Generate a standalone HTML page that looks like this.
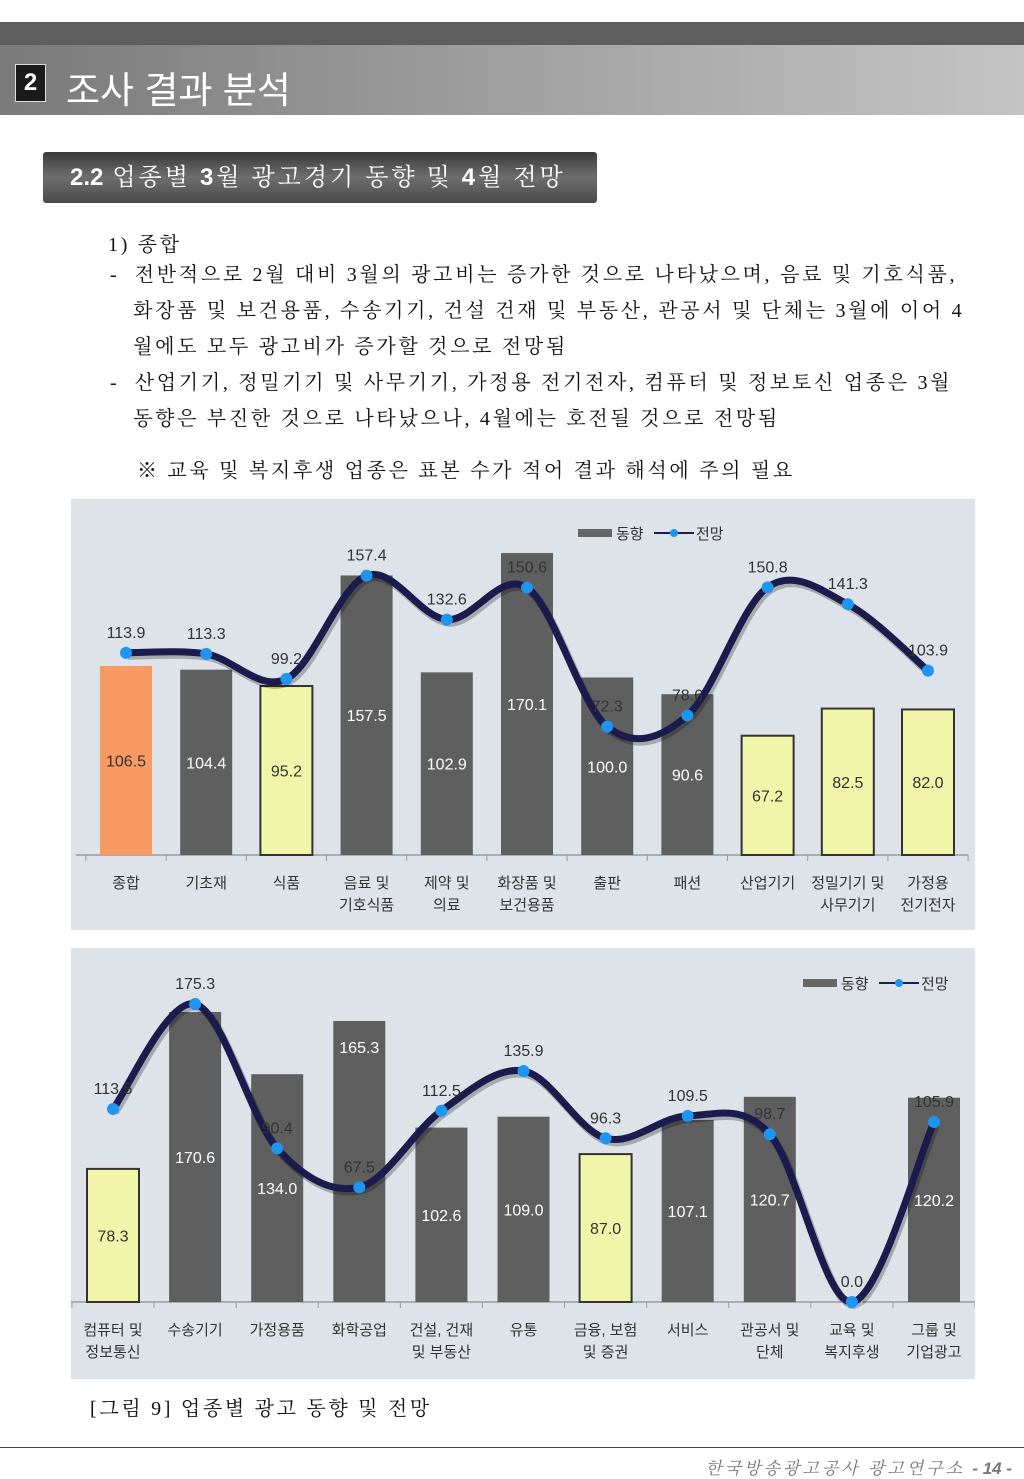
<!DOCTYPE html>
<html><head><meta charset="utf-8"><style>
body{margin:0;width:1024px;height:1479px;background:#fff;position:relative;overflow:hidden;font-family:"Liberation Serif","Noto Serif CJK SC",serif;}
.abs{position:absolute;}
.txt{font-size:20px;letter-spacing:2.7px;color:#111;white-space:nowrap;}
</style></head><body>
<div class="abs" style="left:0;top:22px;width:1024px;height:23px;background:#5e5e5e"></div>
<div class="abs" style="left:0;top:45px;width:1024px;height:70px;background:linear-gradient(90deg,#7a7a7a,#a8a8a8 60%,#c4c4c4)"></div>
<div class="abs" style="left:15px;top:64px;width:29px;height:36px;background:#1a1a1a;border:1px solid #ddd;color:#fff;font:bold 24px 'Liberation Sans',sans-serif;text-align:center;line-height:36px">2</div>
<div class="abs" style="left:66px;top:60px;color:#fff;font-size:37px;font-family:'Liberation Sans','Noto Sans CJK KR',sans-serif;white-space:nowrap">조사 결과 분석</div>
<div class="abs" style="left:43px;top:152px;width:554px;height:51px;background:linear-gradient(180deg,#3a3a3a,#6e6e6e 50%,#4a4a4a);border-radius:3px;color:#fff;font-size:24px;letter-spacing:3px;line-height:51px;padding-left:27px;box-sizing:border-box;white-space:nowrap;font-family:'Liberation Serif','Noto Serif CJK KR',serif"><b style="font-family:'Liberation Sans',sans-serif;letter-spacing:0">2.2</b> 업종별 <b style="font-family:'Liberation Sans',sans-serif">3</b>월 광고경기 동향 및 <b style="font-family:'Liberation Sans',sans-serif">4</b>월 전망</div>
<div class="abs txt" style="left:108px;top:228px">1) 종합</div>
<div class="abs txt" style="left:110px;top:257px;line-height:36px">-&nbsp; 전반적으로 2월 대비 3월의 광고비는 증가한 것으로 나타났으며, 음료 및 기호식품,<br>&nbsp;&nbsp;&nbsp;화장품 및 보건용품, 수송기기, 건설 건재 및 부동산, 관공서 및 단체는 3월에 이어 4<br>&nbsp;&nbsp;&nbsp;월에도 모두 광고비가 증가할 것으로 전망됨</div>
<div class="abs txt" style="left:110px;top:365px;line-height:36px">-&nbsp; 산업기기, 정밀기기 및 사무기기, 가정용 전기전자, 컴퓨터 및 정보토신 업종은 3월<br>&nbsp;&nbsp;&nbsp;동향은 부진한 것으로 나타났으나, 4월에는 호전될 것으로 전망됨</div>
<div class="abs txt" style="left:137px;top:454px">※ 교육 및 복지후생 업종은 표본 수가 적어 결과 해석에 주의 필요</div>

<svg class="abs" id="c1" style="left:71px;top:499px" width="904" height="431"></svg>
<svg class="abs" id="c2" style="left:71px;top:948px" width="904" height="431"></svg>

<div class="abs txt" style="left:90px;top:1392px">[그림 9] 업종별 광고 동향 및 전망</div>
<div class="abs" style="left:0;top:1447px;width:1024px;height:1px;background:#444"></div>
<div class="abs" style="right:12px;top:1454px;font-size:17px;letter-spacing:3px;font-style:italic;color:#777;white-space:nowrap">한국방송광고공사 광고연구소 <b style="font-family:'Liberation Sans',sans-serif;letter-spacing:0">- 14 -</b></div>

<script>
const cats1 = [["종합"],["기초재"],["식품"],["음료 및","기호식품"],["제약 및","의료"],["화장품 및","보건용품"],["출판"],["패션"],["산업기기"],["정밀기기 및","사무기기"],["가정용","전기전자"]];
const trend1 = [106.5,104.4,95.2,157.5,102.9,170.1,100.0,90.6,67.2,82.5,82.0];
const outlook1 = [113.9,113.3,99.2,157.4,132.6,150.6,72.3,78.6,150.8,141.3,103.9];
const style1 = ["o","g","y","g","g","g","g","g","y","y","y"];
const cats2 = [["컴퓨터 및","정보통신"],["수송기기"],["가정용품"],["화학공업"],["건설, 건재","및 부동산"],["유통"],["금융, 보험","및 증권"],["서비스"],["관공서 및","단체"],["교육 및","복지후생"],["그룹 및","기업광고"]];
const trend2 = [78.3,170.6,134.0,165.3,102.6,109.0,87.0,107.1,120.7,0.0,120.2];
const outlook2 = [113.5,175.3,90.4,67.5,112.5,135.9,96.3,109.5,98.7,0.0,105.9];
const style2 = ["y","g","g","g","g","g","y","g","g","g","g"];

const NS="http://www.w3.org/2000/svg";
function mk(svg,tag,attrs,text){const e=document.createElementNS(NS,tag);for(const k in attrs)e.setAttribute(k,attrs[k]);if(text!==undefined)e.textContent=text;svg.appendChild(e);return e;}

function draw(id,cats,trend,outlook,styles,cfg){
  const svg=document.getElementById(id);
  const bg=mk(svg,'rect',{x:0,y:0,width:904,height:431,fill:'#dde3e8'});
  
  
  const n=cats.length;
  const xs=i=>cfg.x0+i*cfg.step;
  const ys=v=>cfg.base-v*cfg.k;
  const font="'Liberation Sans','Noto Sans CJK KR',sans-serif";
  const ax=mk(svg,'line',{x1:cfg.x0-cfg.step/2-10,x2:xs(n-1)+cfg.step/2,y1:cfg.base,y2:cfg.base,stroke:'#999','stroke-width':1.5});
  
  
  for(let i=0;i<=n;i++){const tx=xs(i)-cfg.step/2;mk(svg,'line',{x1:tx,x2:tx,y1:cfg.base,y2:cfg.base+6,stroke:'#999'});}
  const fills={o:'#f89a61',g:'#5f5f5f',y:'#f0f5aa'};
  trend.forEach((v,i)=>{
    const s=styles[i];
    const r=mk(svg,'rect',{x:xs(i)-26,y:ys(v),width:52,height:v*cfg.k,fill:fills[s],stroke:s==='y'?'#333':'none','stroke-width':s==='y'?2:0});
    
    
    const ly = (cfg.topLabel && cfg.topLabel.includes(i)) ? ys(v)+32 : ys(v/2)+6;
    const t=mk(svg,'text',{x:xs(i),y:ly,'text-anchor':'middle','font-size':16,'font-family':font,fill:s==='g'?'#fff':'#333'},v.toFixed(1));
    
    
  });
  const P=outlook.map((v,i)=>[xs(i),ys(v)]);
  let d='M'+P[0][0]+','+P[0][1];
  for(let i=0;i<n-1;i++){
    const p0=P[Math.max(0,i-1)],p1=P[i],p2=P[i+1],p3=P[Math.min(n-1,i+2)];
    const c1=[p1[0]+(p2[0]-p0[0])/6,p1[1]+(p2[1]-p0[1])/6];
    const c2=[p2[0]-(p3[0]-p1[0])/6,p2[1]-(p3[1]-p1[1])/6];
    d+=` C${c1[0]},${c1[1]} ${c2[0]},${c2[1]} ${p2[0]},${p2[1]}`;
  }
  mk(svg,'path',{d:d,fill:'none',stroke:'rgba(0,0,0,0.25)','stroke-width':8,transform:'translate(2,3)'});
  const ln=mk(svg,'path',{d:d,fill:'none',stroke:'#1b1b4d','stroke-width':7,'stroke-linecap':'round'});
  
  
  outlook.forEach((v,i)=>{
    const c=mk(svg,'circle',{cx:xs(i),cy:ys(v),r:6,fill:'#1e96f0'});
    
    
    const t=mk(svg,'text',{x:xs(i),y:ys(v)-15,'text-anchor':'middle','font-size':16,'font-family':font,fill:'#333'},v.toFixed(1));
    
    
  });
  cats.forEach((c,i)=>{c.forEach((ln2,j)=>{
    const t=mk(svg,'text',{x:xs(i),y:cfg.base+33+j*22,'text-anchor':'middle','font-size':15,'font-family':font,fill:'#333'},ln2);
    
    
  });});
  const lx=cfg.lx,ly=cfg.ly;
  const lr=mk(svg,'rect',{x:lx,y:ly-4,width:34,height:8,fill:'#666'});
  
  
  const lt1=mk(svg,'text',{x:lx+38,y:ly+6,'font-size':15,'font-family':font,fill:'#333'},'동향');
  
  
  mk(svg,'line',{x1:lx+76,x2:lx+116,y1:ly,y2:ly,stroke:'#1b1b4d','stroke-width':2});
  mk(svg,'circle',{cx:lx+96,cy:ly,r:4,fill:'#1e96f0'});
  const lt2=mk(svg,'text',{x:lx+118,y:ly+6,'font-size':15,'font-family':font,fill:'#333'},'전망');
  
  
}
draw('c1',cats1,trend1,outlook1,style1,{x0:55,step:80.2,base:356,k:1.775,lx:507,ly:34});
draw('c2',cats2,trend2,outlook2,style2,{x0:42,step:82.1,base:354,k:1.70,lx:732,ly:35,topLabel:[3]});
</script>
</body></html>
